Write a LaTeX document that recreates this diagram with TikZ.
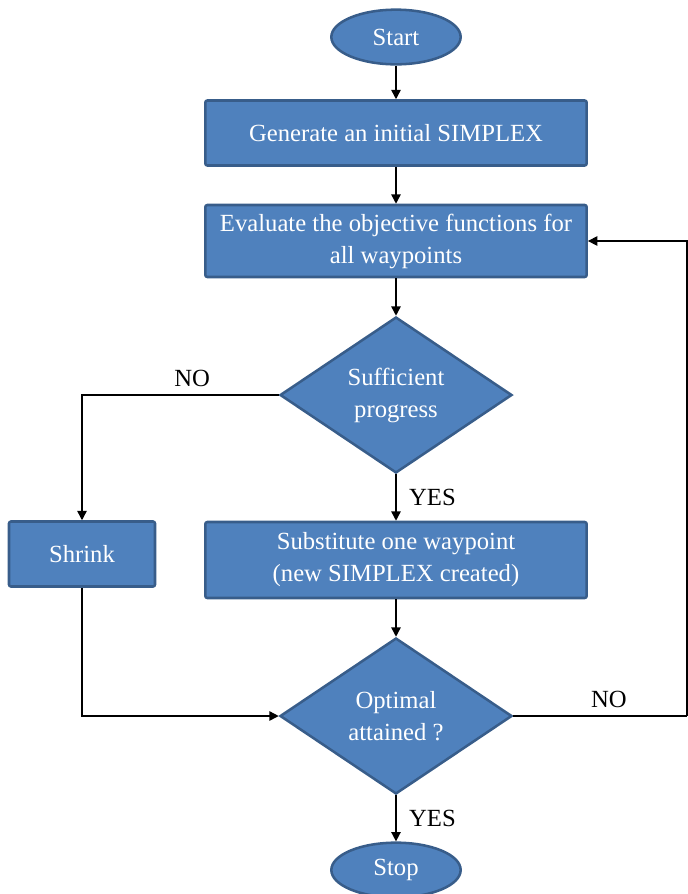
\documentclass[tikz,border=0pt]{standalone}
\usepackage{fontspec}
\setmainfont{Liberation Serif}
\usepackage{xcolor}
\usetikzlibrary{positioning,arrows.meta,shapes.geometric,calc}
\definecolor{boxblue}{HTML}{4F81BD}
\definecolor{edgeblue}{HTML}{385D8A}

\begin{document}
\begin{tikzpicture}[
    x=0.75pt, y=-0.75pt,
    font=\fontsize{18.5}{24}\selectfont,
    block/.style={draw=edgeblue, fill=boxblue, line width=1.9pt, text=white,
                  align=center, inner sep=0pt},
    stepbox/.style={block, rectangle, rounded corners=1.5pt, minimum width=286pt},
    term/.style={block, ellipse, minimum width=97pt, minimum height=41pt},
    test/.style={block, diamond, minimum width=174pt, minimum height=117pt},
    arr/.style={draw, line width=1.1pt, -{Triangle[length=7pt,width=7pt]}},
    line/.style={draw, line width=1.1pt},
]
\useasboundingbox (0,0) rectangle (688,894);

\node[term] (start) at (396,37) {Start};
\node[stepbox, minimum height=48.75pt] (init) at (396,133)
    {Generate an initial SIMPLEX};
\node[stepbox, minimum height=54pt] (eval) at (396,241)
    {Evaluate the objective functions for\\all waypoints};
\node[test] (suff) at (396,395) {Sufficient\\progress};
\node[stepbox, minimum height=57pt] (subst) at (396,560)
    {Substitute one waypoint\\(new SIMPLEX created)};
\node[block, rectangle, rounded corners=1.5pt, minimum width=109.5pt,
      minimum height=48.75pt] (shrink) at (82,554) {Shrink};
\node[test] (opt) at (396,716) {Optimal\\attained ?};
\node[term] (stop) at (396,870) {Stop};
\coordinate (back) at (687,716);

% main flow
\path[arr] (start) -- (init);
\path[arr] (init) -- (eval);
\path[arr] (eval) -- (suff);
\path[arr] (suff) -- node[right=6pt] {YES} (subst);
\path[arr] (subst) -- (opt);
\path[arr] (opt) -- node[right=6pt] {YES} (stop);

% loops
\path[arr] (suff.west) -| node[pos=0.22, above=2pt] {NO} (shrink.north);
\path[arr] (shrink.south) |- (opt.west);
\path[line] (opt.east) -- node[pos=0.55, above=2pt] {NO} (back);
\path[arr] (back) |- (eval.east);
\end{tikzpicture}
\end{document}
